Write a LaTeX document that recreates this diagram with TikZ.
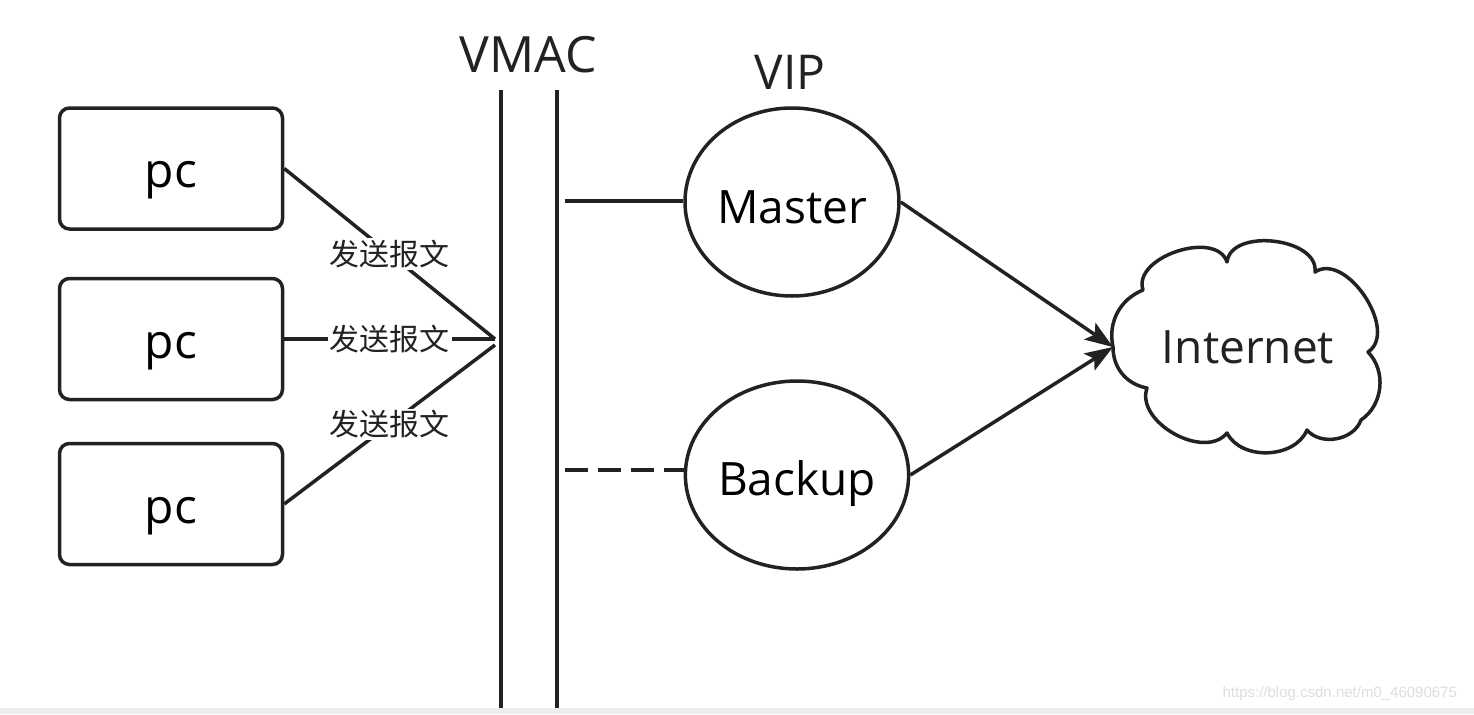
\documentclass[tikz,border=0pt]{standalone}
\usepackage{fontspec}
\setmainfont{Open Sans}
\newfontfamily\cjk{Noto Sans CJK SC}
\newfontfamily\wmfont{Liberation Sans}
\usetikzlibrary{arrows.meta,shapes.geometric}
\definecolor{ink}{HTML}{222222}
\newcommand{\basedown}[2]{\smash{\raisebox{-#1}{#2}}}
\begin{document}
\begin{tikzpicture}[x=0.5pt,y=-0.5pt,
  line/.style={draw=ink,line width=1.75pt},
  pcbox/.style={line,rounded corners=5pt,minimum width=111.5pt,minimum height=60.5pt,inner sep=0pt,font=\fontsize{24}{24}\selectfont},
  vipnode/.style={line,ellipse,minimum width=107pt,minimum height=94pt,inner sep=0pt,font=\fontsize{23}{23}\selectfont},
  msglabel/.style={fill=white,inner sep=1pt,font=\cjk\fontsize{15}{15}\selectfont,text=ink},
  bigtext/.style={font=\fontsize{24}{24}\selectfont,text=ink},
  arr/.style={line,-{Stealth[length=14pt,width=10pt,inset=3pt]}}
]
\useasboundingbox (0,0) rectangle (1474,714);
\fill[white] (0,0) rectangle (1474,714);
\fill[black!7] (0,708) rectangle (1474,714);

% pc boxes
\node[pcbox] (pc1) at (171,168.5) {\basedown{9.5pt}{pc}};
\node[pcbox] (pc2) at (171,339) {\basedown{9.5pt}{pc}};
\node[pcbox] (pc3) at (171,504) {\basedown{9.5pt}{pc}};

% VMAC bus
\coordinate (v1t) at (501,90);
\coordinate (v1b) at (501,708);
\coordinate (v2t) at (557,90);
\coordinate (v2b) at (557,708);
\draw[line] (v1t) -- (v1b);
\draw[line] (v2t) -- (v2b);
\node[bigtext,font=\fontsize{25}{25}\selectfont] (vmac) at (528,55) {VMAC};

% hub points
\coordinate (hubA) at (495,339);
\coordinate (hubB) at (495,345);

\draw[line] (pc1.east) -- node[msglabel,pos=0.5] (l1) {发送报文} (hubA);
\draw[line] (pc2.east) -- node[msglabel,pos=0.5] (l2) {发送报文} (hubA);
\draw[line] (pc3.east) -- node[msglabel,pos=0.5] (l3) {发送报文} (hubB);

% VIP nodes
\node[bigtext] (vip) at (790,72) {VIP};
\node[vipnode] (master) at (792,202) {\basedown{10.5pt}{Master}};
\node[vipnode] (backup) at (797,475) {\basedown{10pt}{Backup}};

\coordinate (mst) at (565,201);
\coordinate (bst) at (565,470);
\draw[line] (mst) -- (mst -| master.west);
\draw[line,dash pattern=on 11.5pt off 5pt] (bst) -- (bst -| backup.west);

% cloud
\coordinate (c0) at (1113,347);
\coordinate (c1) at (1143,290);
\coordinate (c2) at (1227,262);
\coordinate (c3) at (1315,272);
\coordinate (c4) at (1368,352);
\coordinate (c5) at (1361,420);
\coordinate (c6) at (1307,430);
\coordinate (c7) at (1227,433);
\coordinate (c8) at (1147,388);
\draw[line,line join=round] (c0) to[bend left=40] (c1) to[bend left=90] (c2) to[bend left=90] (c3)
  to[bend left=90] (c4) to[bend left=50] (c5) to[bend left=60] (c6) to[bend left=65] (c7)
  to[bend left=80] (c8) to[bend left=40] (c0) -- cycle;
\node[font=\fontsize{23}{23}\selectfont,text=ink] (internet) at (1248,347) {Internet};

\draw[arr] (master.east) -- (c0);
\draw[arr] (backup.east) -- (c0);

\node[font=\wmfont\fontsize{7.5}{7.5}\selectfont,text=black!13,anchor=east] (wm) at (1464,694) {https://blog.csdn.net/m0\_46090675};
\end{tikzpicture}
\end{document}
